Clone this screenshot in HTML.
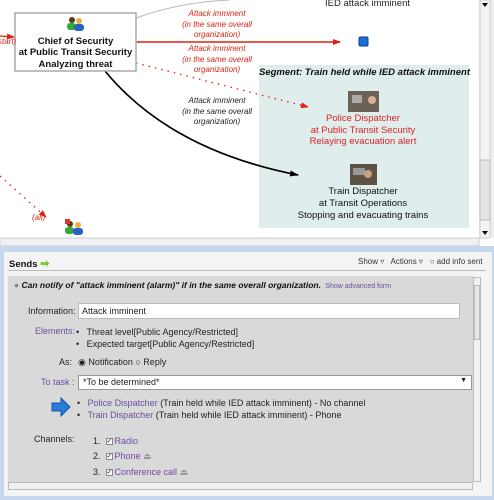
<!DOCTYPE html>
<html><head><meta charset="utf-8"><style>
*{margin:0;padding:0;box-sizing:border-box}
body{width:494px;height:500px;overflow:hidden;background:#fff;font-family:"Liberation Sans",sans-serif;position:relative}
.a{position:absolute;white-space:nowrap}
.c{text-align:center}
.lbl{font-size:8px;font-style:italic;line-height:10.5px;text-align:center;width:100px}
.f{font-size:9px;color:#222}
.pur{color:#6a4fa0 !important}
.cb{display:inline-block;width:7px;height:7px;border:1px solid #888;background:#fff;font-size:7px;line-height:5px;text-align:center;vertical-align:middle;margin-right:2px}
</style></head><body>
<svg class="a" style="left:0;top:0" width="494" height="250">
<defs>
<marker id="ar" markerWidth="8" markerHeight="6" refX="7" refY="3" orient="auto" markerUnits="userSpaceOnUse"><path d="M0,0L8,3L0,6z" fill="#d21"/></marker>
<marker id="ak" markerWidth="9" markerHeight="6" refX="8" refY="3" orient="auto" markerUnits="userSpaceOnUse"><path d="M0,0L9,3L0,6z" fill="#000"/></marker>
</defs>
<rect x="0" y="0" width="494" height="250" fill="#fff"/>
<path d="M136,18 Q180,2 230,0" stroke="#bbb" fill="none"/>
<rect x="259" y="65" width="210" height="163" fill="#dfeded"/>
<line x1="136" y1="42" x2="340" y2="42" stroke="#d21" stroke-width="1.5" marker-end="url(#ar)"/>
<line x1="136" y1="63" x2="308" y2="107" stroke="#d21" stroke-width="1.3" stroke-dasharray="1.5,5" marker-end="url(#ar)"/>
<path d="M105,71 Q170,150 298,175" stroke="#000" stroke-width="1.7" fill="none" marker-end="url(#ak)"/>
<line x1="0" y1="36" x2="14" y2="37" stroke="#d21" stroke-width="1.3" marker-end="url(#ar)"/>
<line x1="0" y1="176" x2="46" y2="217" stroke="#d21" stroke-width="1.3" stroke-dasharray="1.5,5" marker-end="url(#ar)"/>
<rect x="359" y="37" width="9" height="9" rx="1.5" fill="#1a6fd8" stroke="#0c3d8a"/>
<rect x="15" y="13" width="121" height="58" fill="#fff" stroke="#aaa" stroke-width="1.5"/>
<circle cx="72" cy="20" r="3" fill="#5a3a10"/><rect x="67" y="23" width="9" height="7" rx="3" fill="#3a3"/>
<circle cx="79" cy="21" r="3" fill="#e9b040"/><rect x="74" y="24" width="10" height="7" rx="3" fill="#2763c4"/>
<circle cx="70" cy="224" r="3" fill="#5a3a10"/><rect x="65" y="227" width="9" height="7" rx="3" fill="#3a3"/>
<circle cx="78" cy="225" r="3" fill="#e9b040"/><rect x="73" y="228" width="10" height="7" rx="3" fill="#2763c4"/>
<rect x="65" y="219" width="5" height="5" fill="#d33"/>
<rect x="348" y="91" width="31" height="21" fill="#6b6257"/><rect x="352" y="95" width="10" height="8" fill="#aaa"/><circle cx="372" cy="100" r="4" fill="#d9b090"/>
<rect x="350" y="164" width="27" height="21" fill="#5d5246"/><rect x="353" y="168" width="12" height="7" fill="#999"/><circle cx="368" cy="174" r="4" fill="#c9a080"/>
<rect x="479" y="0" width="15" height="238" fill="#eee"/>
<rect x="480" y="0" width="10" height="238" fill="#f4f4f4" stroke="#ccc"/>
<rect x="480" y="160" width="10" height="60" fill="#e4e4e4" stroke="#bbb"/>
<path d="M482,3L488,3L485,7z" fill="#000"/><path d="M482,231L488,231L485,235z" fill="#000"/>
<rect x="0" y="238" width="479" height="8" fill="#f0f0f0" stroke="#ccc"/>
<rect x="0" y="246" width="494" height="4" fill="#c8d8ec"/>
</svg>
<div class="a c" style="left:15px;top:36px;width:121px;font-size:9.5px;font-weight:bold;line-height:11.3px;color:#111">Chief of Security<br>at Public Transit Security<br>Analyzing threat</div>
<div class="a lbl" style="left:167px;top:9px;color:#d21">Attack imminent<br>(in the same overall<br>organization)</div>
<div class="a lbl" style="left:167px;top:44px;color:#d21">Attack imminent<br>(in the same overall<br>organization)</div>
<div class="a lbl" style="left:167px;top:96px;color:#222">Attack imminent<br>(in the same overall<br>organization)</div>
<div class="a" style="left:-2px;top:37px;font-size:8px;font-style:italic;color:#d21">start)</div>
<div class="a" style="left:32px;top:213px;font-size:8px;font-style:italic;color:#d21">(all)</div>
<div class="a" style="left:325px;top:-2px;font-size:9.5px;color:#222">IED attack imminent</div>
<div class="a c" style="left:259px;top:67px;width:210px;font-size:9.5px;font-weight:bold;font-style:italic;color:#111">Segment: Train held while IED attack imminent</div>
<div class="a c" style="left:300px;top:113px;width:126px;font-size:9.5px;line-height:11.5px;color:#d22">Police Dispatcher<br>at Public Transit Security<br>Relaying evacuation alert</div>
<div class="a c" style="left:290px;top:186px;width:146px;font-size:9.5px;line-height:11.8px;color:#111">Train Dispatcher<br>at Transit Operations<br>Stopping and evacuating trains</div>
<div class="a" style="left:0;top:250px;width:494px;height:250px;background:#c8d8ec"></div>
<div class="a" style="left:4px;top:252px;width:488px;height:244px;background:#f4f4f4"></div>
<div class="a" style="left:9px;top:257px;font-size:9.5px;font-weight:bold;color:#111">Sends <span style="color:#7c3;font-size:11px">➡</span></div>
<div class="a" style="left:358px;top:257px;font-size:8px;color:#333">Show ▿ &nbsp; Actions ▿ &nbsp; ○ add info sent</div>
<div class="a" style="left:8px;top:270px;width:478px;height:1px;background:#bbb"></div>
<div class="a" style="left:8px;top:276px;width:466px;height:206px;background:#d9d9d9"></div>
<div class="a" style="left:473px;top:277px;width:8px;height:205px;background:#f2f2f2;border:1px solid #bbb"></div>
<div class="a" style="left:474px;top:285px;width:6px;height:55px;background:#e6e6e6;border:1px solid #bbb"></div>
<div class="a" style="left:8px;top:482px;width:465px;height:8px;background:#f2f2f2;border:1px solid #bbb"></div>
<div class="a" style="left:14px;top:280px;font-size:8.5px;font-weight:bold;font-style:italic;color:#111"><span style="color:#888">●</span> Can notify of "attack imminent (alarm)" if in the same overall organization. <span class="pur" style="font-size:7px;font-weight:normal;font-style:normal">&nbsp;Show advanced form</span></div>
<div class="a f" style="left:28px;top:306px">Information:</div>
<div class="a f" style="left:78px;top:303px;width:382px;height:16px;background:#fff;border:1px solid #bbb;padding:2px 3px">Attack imminent</div>
<div class="a f pur" style="left:35px;top:326px">Elements:</div>
<div class="a f" style="left:76px;top:326px;line-height:12px">•&nbsp;&nbsp; Threat level[Public Agency/Restricted]<br>•&nbsp;&nbsp; Expected target[Public Agency/Restricted]</div>
<div class="a f" style="left:59px;top:357px">As:</div>
<div class="a f" style="left:78px;top:357px">◉ Notification ○ Reply</div>
<div class="a f pur" style="left:41px;top:377px">To task :</div>
<div class="a f" style="left:78px;top:375px;width:394px;height:15px;background:#fff;border:1px solid #999;padding:1px 4px">*To be determined*<span style="float:right;font-size:7px">▼</span></div>
<svg class="a" style="left:51px;top:397px" width="20" height="20"><path d="M1,6H10V1L19,10L10,19V14H1z" fill="#2a7ad8" stroke="#1555a5"/></svg>
<div class="a f" style="left:77px;top:397px;line-height:12px">•&nbsp;&nbsp; <span class="pur">Police Dispatcher</span> (Train held while IED attack imminent) - No channel<br>•&nbsp;&nbsp; <span class="pur">Train Dispatcher</span> (Train held while IED attack imminent) - Phone</div>
<div class="a f" style="left:34px;top:434px">Channels:</div>
<div class="a f" style="left:93px;top:434px;line-height:15.3px">1.&nbsp; <span class="cb">✓</span><span class="pur">Radio</span><br>2.&nbsp; <span class="cb">✓</span><span class="pur">Phone</span> <span style="color:#999">⏏</span><br>3.&nbsp; <span class="cb">✓</span><span class="pur">Conference call</span> <span style="color:#999">⏏</span></div>
</body></html>
